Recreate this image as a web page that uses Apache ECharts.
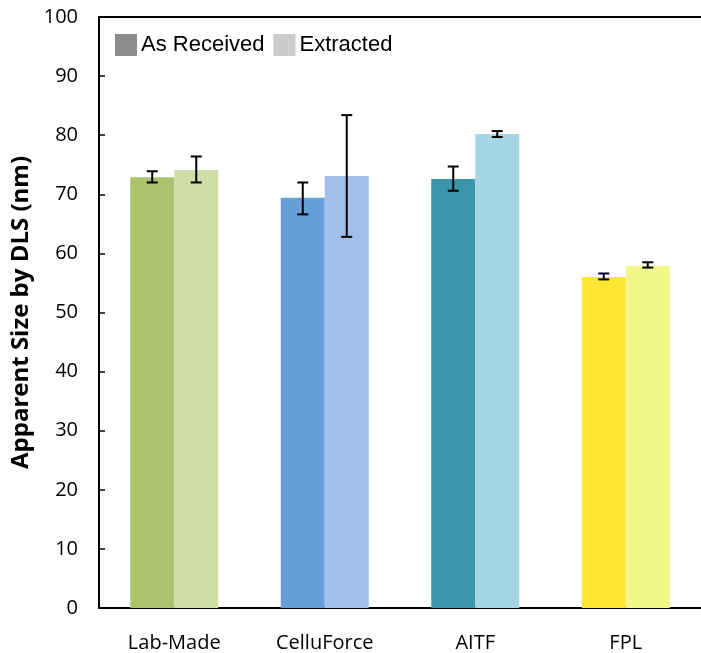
<!DOCTYPE html>
<html>
<head>
<meta charset="utf-8">
<script src="https://cdn.jsdelivr.net/npm/echarts@6/dist/echarts.min.js"></script>
<style>
  html, body { margin: 0; padding: 0; background: #fff; overflow: hidden; }
  #chart { width: 701px; height: 653px; }
</style>
</head>
<body>
<div id="chart"></div>
<script>
// data
const categories = ['Lab-Made', 'CelluForce', 'AITF', 'FPL']
const asReceived = [72.9, 69.4, 72.6, 56.0]
const asReceivedLow = [72.0, 66.6, 70.6, 55.6]
const asReceivedHigh = [73.9, 72.0, 74.7, 56.6]
const extracted = [74.1, 73.1, 80.2, 57.9]
const extractedLow = [72.0, 62.8, 79.7, 57.6]
const extractedHigh = [76.4, 83.4, 80.7, 58.5]
const yTicks = [0, 10, 20, 30, 40, 50, 60, 70, 80, 90, 100]

const darkColors = ['#a9c46c', '#679fdc', '#3a96ac', '#fde733']
const lightColors = ['#cfdda9', '#a0c0ea', '#a5d6e3', '#f2f78a']

const font = '"Open Sans", sans-serif'

let myChart = echarts.init(document.getElementById('chart'))

// error bars drawn on top of the bars, shifted half a bar width either side
function errorSeries (low, high, offset) {
  return {
    type: 'custom',
    silent: true,
    z: 10,
    clip: false,
    data: categories.map((c, i) => [i, low[i], high[i]]),
    renderItem: (params, api) => {
      let lo = api.coord([api.value(0), api.value(1)])
      let hi = api.coord([api.value(0), api.value(2)])
      let x = lo[0] + offset
      let cap = 5.5
      let style = { stroke: '#000', lineWidth: 2 }
      return {
        type: 'group',
        children: [
          { type: 'line', shape: { x1: x, y1: lo[1], x2: x, y2: hi[1] }, style: style },
          { type: 'line', shape: { x1: x - cap, y1: lo[1], x2: x + cap, y2: lo[1] }, style: style },
          { type: 'line', shape: { x1: x - cap, y1: hi[1], x2: x + cap, y2: hi[1] }, style: style }
        ]
      }
    }
  }
}

myChart.setOption({
  animation: false,
  grid: {
    left: 99,
    width: 611,
    top: 17,
    bottom: 40
  },
  legend: {
    left: 110,
    top: 29,
    itemWidth: 22,
    itemHeight: 22,
    itemGap: 9,
    icon: 'rect',
    textStyle: { fontFamily: 'Arial, "Liberation Sans", sans-serif', fontSize: 22, color: '#000', padding: [0, 0, 0, -1] },
    data: [
      { name: 'As Received', itemStyle: { color: '#8c8c8c' } },
      { name: 'Extracted', itemStyle: { color: '#cccccc' } }
    ]
  },
  xAxis: [
    {
      type: 'category',
      data: categories,
      axisTick: { show: false },
      axisLine: { lineStyle: { color: '#000', width: 2 } },
      axisLabel: { fontFamily: font, fontSize: 20, color: '#000', margin: 25 }
    },
    {
      // top frame line only
      type: 'category',
      position: 'top',
      data: categories,
      axisTick: { show: false },
      axisLabel: { show: false },
      axisLine: { show: true, lineStyle: { color: '#000', width: 2 } }
    }
  ],
  yAxis: {
    type: 'value',
    min: 0,
    max: 100,
    interval: 10,
    name: 'Apparent Size by DLS (nm)',
    nameLocation: 'middle',
    nameGap: 54,
    nameTextStyle: { fontFamily: font, fontSize: 24, fontWeight: 'bold', color: '#000' },
    splitLine: { show: false },
    axisLine: { show: true, lineStyle: { color: '#000', width: 2 } },
    axisTick: { show: true, inside: true, length: 6, lineStyle: { color: '#000', width: 1.5 } },
    axisLabel: {
      fontFamily: font,
      fontSize: 20,
      color: '#000',
      margin: 21,
      formatter: v => yTicks.indexOf(v) >= 0 ? String(v) : ''
    }
  },
  series: [
    {
      name: 'As Received',
      type: 'bar',
      barWidth: 44,
      barGap: '0%',
      data: asReceived.map((v, i) => ({ value: v, itemStyle: { color: darkColors[i] } }))
    },
    {
      name: 'Extracted',
      type: 'bar',
      barWidth: 44,
      barGap: '0%',
      data: extracted.map((v, i) => ({ value: v, itemStyle: { color: lightColors[i] } }))
    },
    errorSeries(asReceivedLow, asReceivedHigh, -22),
    errorSeries(extractedLow, extractedHigh, 22)
  ]
})
</script>
</body>
</html>
